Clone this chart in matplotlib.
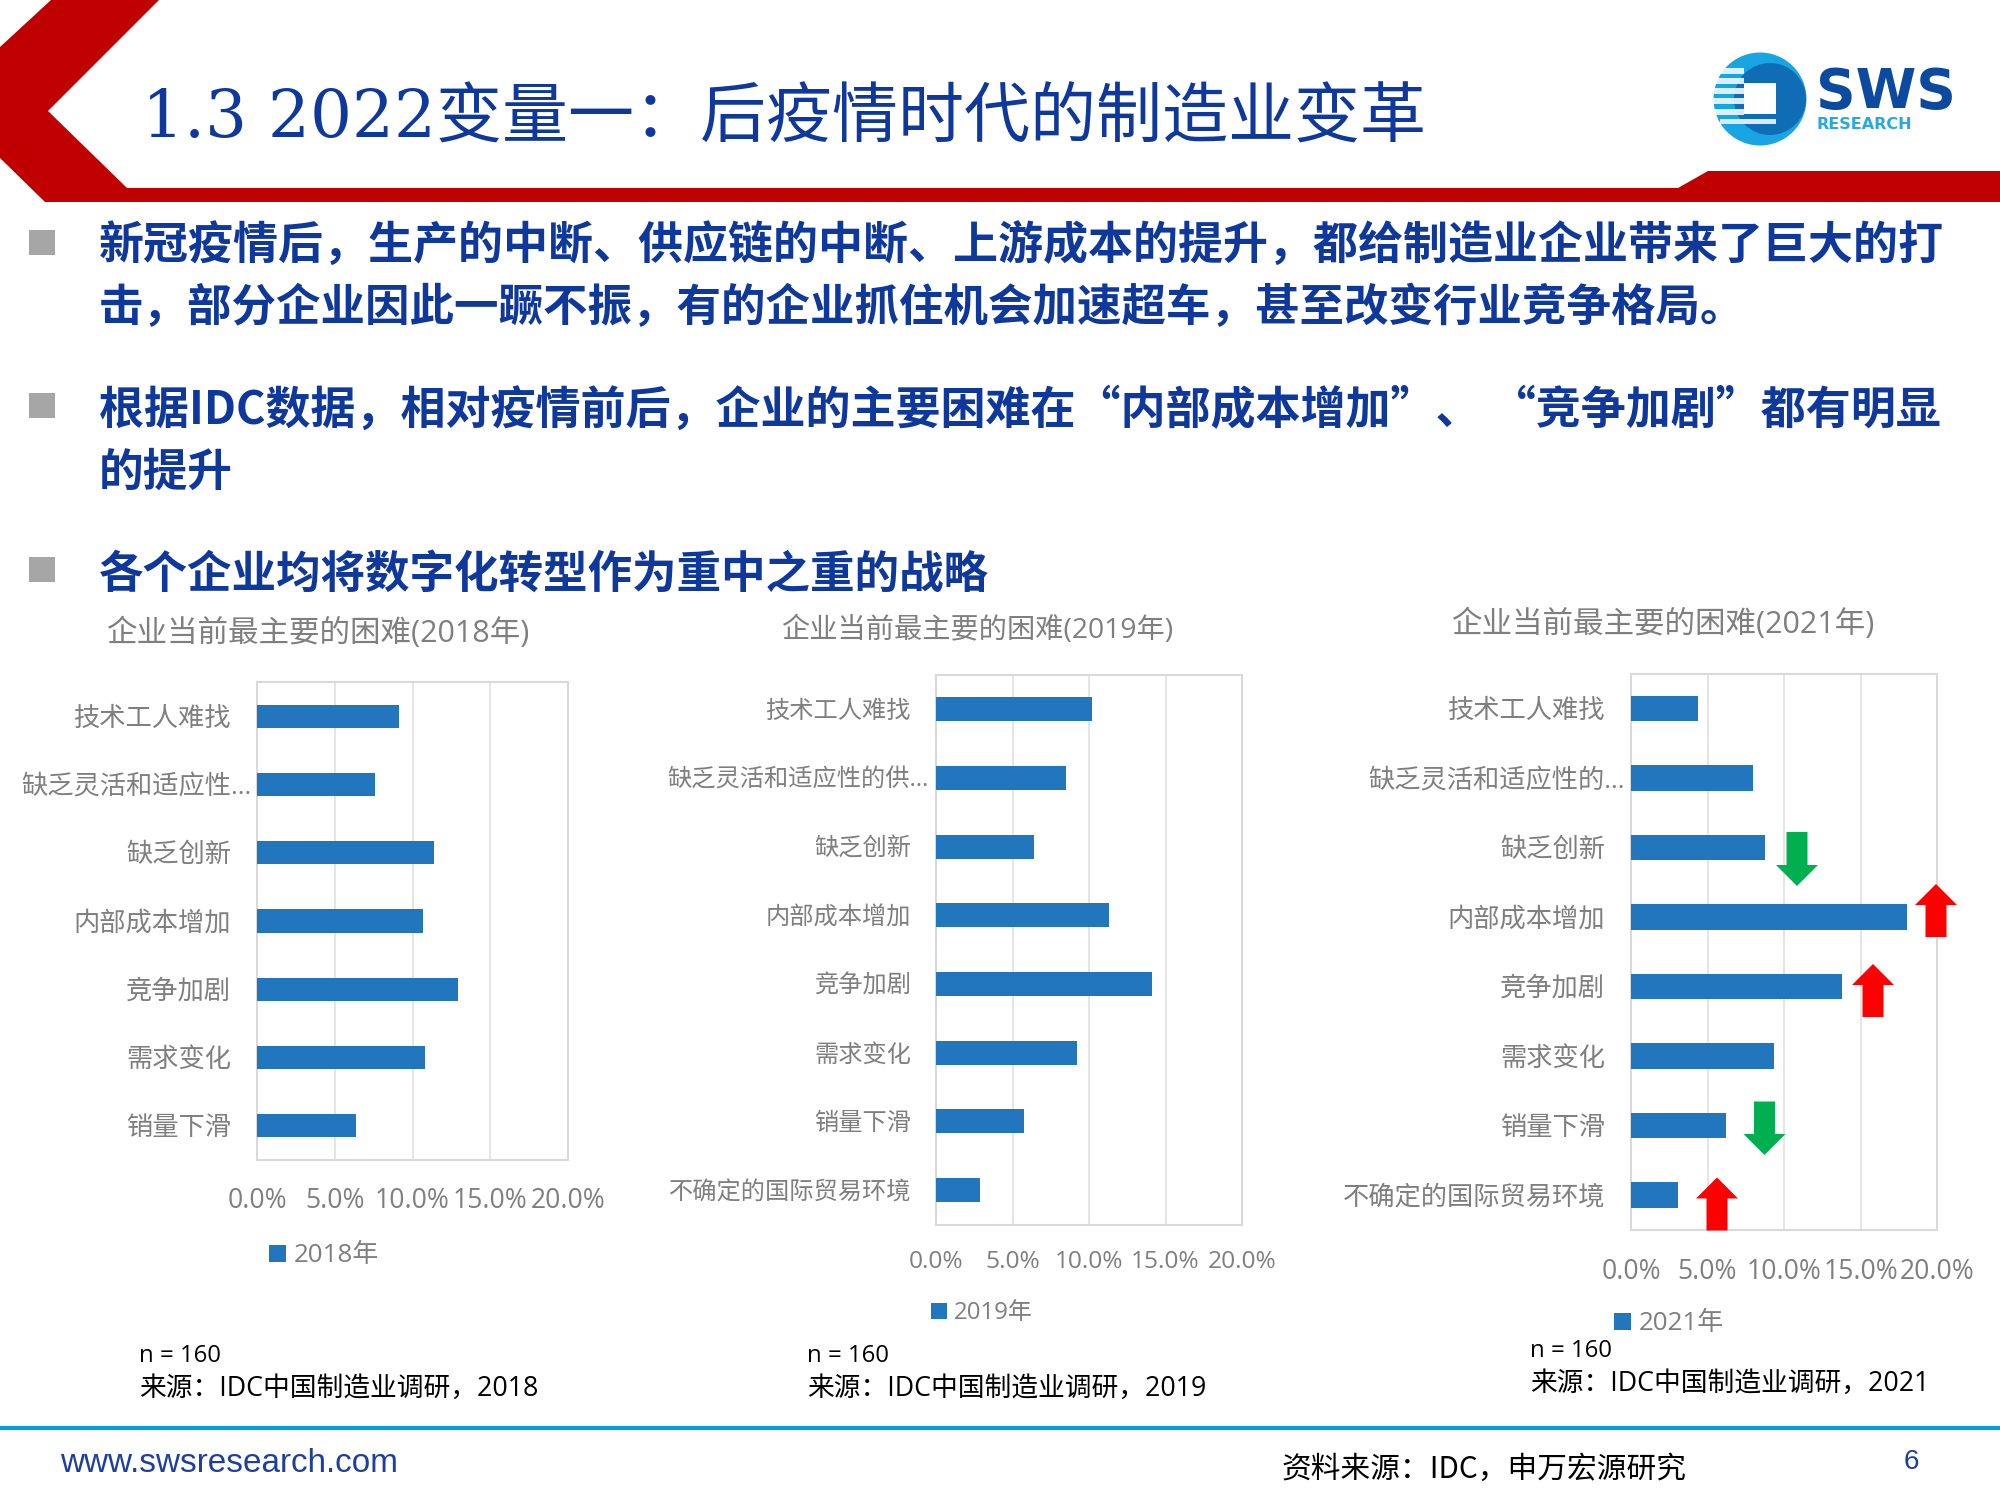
import matplotlib
matplotlib.use('Agg')
import matplotlib.pyplot as plt
from matplotlib.patches import Polygon, Rectangle, Circle, Patch

plt.rcParams['font.family'] = ['Open Sans', 'Noto Sans CJK SC', 'DejaVu Sans']

# chart data
labels_2018 = ['技术工人难找', '缺乏灵活和适应性…', '缺乏创新', '内部成本增加', '竞争加剧', '需求变化', '销量下滑']
values_2018 = [9.1, 7.6, 11.4, 10.7, 12.9, 10.8, 6.35]
labels_2019 = ['技术工人难找', '缺乏灵活和适应性的供…', '缺乏创新', '内部成本增加', '竞争加剧', '需求变化', '销量下滑', '不确定的国际贸易环境']
values_2019 = [10.2, 8.5, 6.4, 11.3, 14.1, 9.2, 5.75, 2.85]
labels_2021 = ['技术工人难找', '缺乏灵活和适应性的…', '缺乏创新', '内部成本增加', '竞争加剧', '需求变化', '销量下滑', '不确定的国际贸易环境']
values_2021 = [4.35, 8.0, 8.75, 18.05, 13.8, 9.35, 6.2, 3.05]
xticks = [0, 5, 10, 15, 20]

W, H = 2000, 1500
BLUE = '#0F389C'
GREY = '#7F7F7F'
BAR = '#2176BD'
px = 0.72  # pixels to points at dpi 100

fig = plt.figure(figsize=(20, 15), dpi=100, facecolor='white')

# slide background in pixel coordinates
bg = fig.add_axes([0, 0, 1, 1])
bg.set_xlim(0, W)
bg.set_ylim(H, 0)
bg.axis('off')

banner = [(51, 0), (159, 0), (48, 111), (127, 188), (1678, 188), (1708, 171), (2000, 171),
          (2000, 202), (45, 202), (0, 158), (0, 47)]
bg.add_patch(Polygon(banner, closed=True, fc='#C00000', ec='none'))

bg.text(142, 120, '1.3 2022变量一：后疫情时代的制造业变革', fontsize=66 * px, color=BLUE,
        family=['DejaVu Serif', 'Noto Sans CJK SC'], va='center', ha='left')

# logo
bg.add_patch(Circle((1760, 99), 46.5, fc='#18A5E3', ec='none'))
bg.add_patch(Circle((1770, 99), 36, fc='#0F6DB6', ec='none'))
for y0 in [68, 78, 88, 98, 109]:
    bg.add_patch(Rectangle((1712, y0), 32, 5.5, fc='white', ec='none', alpha=0.85))
bg.add_patch(Rectangle((1720, 119), 56, 5, fc='#DDE6F5', ec='none'))
bg.add_patch(Rectangle((1744, 83), 32, 31, fc='white', ec='none'))
bg.text(1816, 93, 'SWS', fontsize=55 * px, fontweight='bold', color='#0B4A9E',
        family='DejaVu Sans', va='center', ha='left')
bg.text(1817, 124.5, 'RESEARCH', fontsize=16 * px, fontweight='bold', color='#29A7E0',
        family='DejaVu Sans', va='center', ha='left')

# bullets and body text
for y0 in [230, 393, 557]:
    bg.add_patch(Rectangle((29, y0), 26, 25, fc='#A6A6A6', ec='none'))
body = [(247, 45.0, '新冠疫情后，生产的中断、供应链的中断、上游成本的提升，都给制造业企业带来了巨大的打'),
        (308.5, 44.45, '击，部分企业因此一蹶不振，有的企业抓住机会加速超车，甚至改变行业竞争格局。'),
        (411, 45.05, '根据IDC数据，相对疫情前后，企业的主要困难在“内部成本增加”、 “竞争加剧”都有明显'),
        (472.5, 44.7, '的提升'),
        (575, 44.57, '各个企业均将数字化转型作为重中之重的战略')]
for yc, size, line in body:
    bg.text(99, yc, line, fontsize=size * px, fontweight='bold', color=BLUE,
            family=['Noto Sans CJK SC'], va='center', ha='left')


def bar_panel(box, labels, values, title, title_xy, legend_label, legend_xy, note_xy,
              note, fs, band, long_pad, short_pad, tick_pad):
    left, top, right, bottom = box
    w, h = right - left, bottom - top
    ax = fig.add_axes([left / W, 1 - bottom / H, w / W, h / H])
    ax.patch.set_alpha(0)
    ax.barh(range(len(values)), values, height=band, color=BAR, zorder=3, label=legend_label)
    ax.set_xlim(0, 20)
    ax.set_ylim(len(values) - 0.5, -0.5)
    ax.set_xticks(xticks)
    ax.set_xticklabels(['%.1f%%' % t for t in xticks], fontsize=fs * 1.02 * px, color=GREY)
    ax.set_yticks(range(len(labels)))
    ax.set_yticklabels(labels, fontsize=fs * 1.01 * px, color=GREY)
    ax.tick_params(axis='both', length=0)
    ax.tick_params(axis='x', pad=tick_pad * px)
    for i, tick in enumerate(ax.yaxis.get_major_ticks()):
        tick.set_pad((long_pad if labels[i].endswith('…') else short_pad) * px)
    ax.grid(axis='x', color='#E3E3E3', lw=1.3, zorder=0)
    for s in ax.spines.values():
        s.set_color('#D9D9D9')
        s.set_linewidth(1.5)
    ax.set_title(title, fontsize=fs * 1.175 * px, color=GREY, va='center',
                 x=(title_xy[0] - left) / w, y=(bottom - title_xy[1]) / h)
    ax.legend(handles=[Patch(fc=BAR, ec='none', label=legend_label)], loc='center left',
              bbox_to_anchor=legend_xy, bbox_transform=bg.transData, frameon=False,
              borderpad=0, borderaxespad=0, handlelength=0.65, handleheight=0.65,
              handletextpad=0.3, labelcolor=GREY, fontsize=fs * px)
    bg.text(note_xy[0], note_xy[1], 'n = 160', fontsize=24 * px, color='black', va='center')
    bg.text(note_xy[0], note_xy[1] + 33, note, fontsize=26.8 * px, color='black', va='center')
    return ax


bar_panel((257, 682, 568, 1160), labels_2018, values_2018, '企业当前最主要的困难(2018年)', (318, 642),
          '2018年', (269, 1256), (139, 1356), '来源：IDC中国制造业调研，2018',
          26, 0.337, 6, 26, 27)
bar_panel((936, 675, 1242, 1224.5), labels_2019, values_2019, '企业当前最主要的困难(2019年)', (977, 639),
          '2019年', (931, 1313), (807, 1356), '来源：IDC中国制造业调研，2019',
          24, 0.35, 7, 25, 25)
bar_panel((1631, 673.5, 1937, 1230), labels_2021, values_2021, '企业当前最主要的困难(2021年)', (1663, 633),
          '2021年', (1614, 1324), (1530, 1351), '来源：IDC中国制造业调研，2021',
          26, 0.367, 6, 26, 28)

# change arrows on the 2021 panel, (x centre, tip y, tail y)
arrows_up = [(1936, 884, 937), (1873, 964, 1017), (1717, 1177.5, 1230.5)]
arrows_down = [(1797, 886, 832), (1764.5, 1155, 1101.5)]

over = fig.add_axes([0, 0, 1, 1], sharex=bg, sharey=bg)
over.axis('off')


def block_arrow(x, tip, tail, color):
    s = 1 if tail > tip else -1
    neck = tip + s * 21
    pts = [(x, tip), (x + 21, neck), (x + 10.5, neck), (x + 10.5, tail),
           (x - 10.5, tail), (x - 10.5, neck), (x - 21, neck)]
    over.add_patch(Polygon(pts, closed=True, fc=color, ec='none', zorder=5))


for a in arrows_up:
    block_arrow(a[0], a[1], a[2], '#FF0000')
for a in arrows_down:
    block_arrow(a[0], a[1], a[2], '#00B050')

# footer
bg.add_patch(Rectangle((0, 1426), W, 4, fc='#00A0DC', ec='none'))
bg.text(60, 1463, 'www.swsresearch.com', fontsize=33.3 * px, color='#1F3F9F',
        family='Liberation Sans', va='center', ha='left')
bg.text(1282, 1469, '资料来源：IDC，申万宏源研究', fontsize=29.7 * px, color='black',
        family=['Noto Sans CJK SC'], va='center', ha='left')
bg.text(1911, 1462, '6', fontsize=28 * px, color='#1F3F9F',
        family='Liberation Sans', va='center', ha='center')

fig.savefig('out.png', dpi=100)
